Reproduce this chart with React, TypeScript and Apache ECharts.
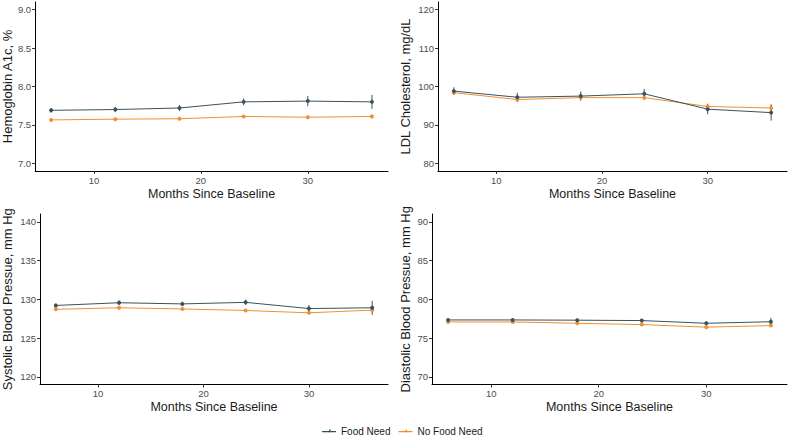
import React, { useEffect, useRef } from "react";
import * as echarts from "echarts";

const months = [6, 12, 18, 24, 30, 36];

const hba1cFood = [7.69, 7.7, 7.72, 7.8, 7.81, 7.8];
const hba1cFoodErr = [0.03, 0.035, 0.04, 0.045, 0.065, 0.09];
const hba1cNoFood = [7.565, 7.575, 7.58, 7.61, 7.6, 7.61];
const hba1cNoFoodErr = [0.012, 0.015, 0.015, 0.018, 0.022, 0.025];

const ldlFood = [98.8, 97.2, 97.5, 98.1, 94.1, 93.2];
const ldlFoodErr = [1.0, 1.15, 1.2, 1.25, 1.3, 2.1];
const ldlNoFood = [98.4, 96.6, 97.1, 97.1, 94.8, 94.4];
const ldlNoFoodErr = [0.6, 0.6, 0.65, 0.7, 0.8, 0.9];

const sbpFood = [129.2, 129.55, 129.4, 129.6, 128.8, 128.9];
const sbpFoodErr = [0.25, 0.3, 0.3, 0.35, 0.45, 0.9];
const sbpNoFood = [128.7, 128.9, 128.75, 128.55, 128.25, 128.6];
const sbpNoFoodErr = [0.15, 0.15, 0.15, 0.18, 0.2, 0.25];

const dbpFood = [77.33, 77.33, 77.3, 77.25, 76.9, 77.1];
const dbpFoodErr = [0.15, 0.15, 0.18, 0.2, 0.25, 0.5];
const dbpNoFood = [77.07, 77.07, 76.9, 76.73, 76.4, 76.6];
const dbpNoFoodErr = [0.1, 0.1, 0.1, 0.12, 0.13, 0.15];

const xTicks = [10, 20, 30];
const yTitles = [
  "Hemoglobin A1c, %",
  "LDL Cholesterol, mg/dL",
  "Systolic Blood Pressue, mm Hg",
  "Diastolic Blood Pressue, mm Hg",
];
const yTicks = [
  [7.0, 7.5, 8.0, 8.5, 9.0],
  [80, 90, 100, 110, 120],
  [120, 125, 130, 135, 140],
  [70, 75, 80, 85, 90],
];
const yRanges = [
  [6.9, 9.1],
  [78, 122],
  [119, 141],
  [69, 91],
];
const yDecimals = [1, 0, 0, 0];

const FOOD = "#3b515c";
const NOFOOD = "#ef8f35";
const FONT = "'Liberation Sans', Arial, sans-serif";

const grids = [
  { left: 35, top: 2, width: 353, height: 169 },
  { left: 438, top: 2, width: 349, height: 169 },
  { left: 39, top: 214, width: 349, height: 170.5 },
  { left: 432, top: 214, width: 355, height: 170.5 },
];
const nameGaps = [21, 26, 26, 20];

export default function App() {
  const ref = useRef<HTMLDivElement>(null);
  useEffect(() => {
    if (!ref.current) return;
    const chart = echarts.init(ref.current, undefined, { renderer: "svg" });
    const panels = [
      [hba1cFood, hba1cFoodErr, hba1cNoFood, hba1cNoFoodErr],
      [ldlFood, ldlFoodErr, ldlNoFood, ldlNoFoodErr],
      [sbpFood, sbpFoodErr, sbpNoFood, sbpNoFoodErr],
      [dbpFood, dbpFoodErr, dbpNoFood, dbpNoFoodErr],
    ];
    const xAxis: any[] = [];
    const yAxis: any[] = [];
    const series: any[] = [];
    panels.forEach((p, i) => {
      xAxis.push({
        type: "value",
        gridIndex: i,
        min: 4.5,
        max: 37.5,
        splitLine: { show: false },
        axisLine: { show: true, lineStyle: { color: "#000", width: 1 } },
        axisTick: { show: true, length: 3, lineStyle: { color: "#333" }, customValues: xTicks },
        axisLabel: { customValues: xTicks, color: "#4d4d4d", fontSize: 9.5, fontFamily: FONT, margin: 4 },
        name: "Months Since Baseline",
        nameLocation: "middle",
        nameGap: 16,
        nameTextStyle: { color: "#1a1a1a", fontSize: 12.5, fontFamily: FONT },
      });
      yAxis.push({
        type: "value",
        gridIndex: i,
        min: yRanges[i][0],
        max: yRanges[i][1],
        splitLine: { show: false },
        axisLine: { show: true, lineStyle: { color: "#000", width: 1 } },
        axisTick: { show: true, length: 3, lineStyle: { color: "#333" }, customValues: yTicks[i] },
        axisLabel: {
          customValues: yTicks[i],
          color: "#4d4d4d",
          fontSize: 9.5,
          fontFamily: FONT,
          margin: 4,
          formatter: (v: number) => v.toFixed(yDecimals[i]),
        },
        name: yTitles[i],
        nameLocation: "middle",
        nameGap: nameGaps[i],
        nameTextStyle: { color: "#1a1a1a", fontSize: 13, fontFamily: FONT },
      });
      const groups = [
        { name: "No Food Need", mean: p[2], err: p[3], color: NOFOOD },
        { name: "Food Need", mean: p[0], err: p[1], color: FOOD },
      ];
      groups.forEach((g) => {
        series.push({
          type: "custom",
          name: g.name + " error",
          xAxisIndex: i,
          yAxisIndex: i,
          data: months.map((m, k) => [m, g.mean[k] - g.err[k], g.mean[k] + g.err[k]]),
          encode: { x: 0, y: [1, 2] },
          itemStyle: { color: g.color },
          renderItem: (_params: any, api: any) => {
            const a = api.coord([api.value(0), api.value(1)]);
            const b = api.coord([api.value(0), api.value(2)]);
            return {
              type: "line",
              shape: { x1: a[0], y1: a[1], x2: b[0], y2: b[1] },
              style: { stroke: g.color, lineWidth: 1 },
            };
          },
          silent: true,
          z: 2,
        });
        series.push({
          type: "line",
          name: g.name,
          xAxisIndex: i,
          yAxisIndex: i,
          data: months.map((m, k) => [m, g.mean[k]]),
          color: g.color,
          symbol: "circle",
          symbolSize: 4,
          showSymbol: true,
          lineStyle: { width: 1, color: g.color },
          itemStyle: { color: g.color },
          z: 3,
        });
      });
    });
    chart.setOption({
      animation: false,
      grid: grids,
      xAxis,
      yAxis,
      series,
      legend: {
        data: [
          { name: "Food Need", icon: "path://M0,4.5L6,4.5L6,3A1.5,1.5,0,1,1,6,6L6,4.5L12,4.5L12,5.5L6,5.5L0,5.5Z" },
          { name: "No Food Need", icon: "path://M0,4.5L6,4.5L6,3A1.5,1.5,0,1,1,6,6L6,4.5L12,4.5L12,5.5L6,5.5L0,5.5Z" },
        ],
        selectedMode: false,
        top: 421,
        left: 317,
        itemWidth: 14,
        itemHeight: 8,
        itemGap: 8,
        textStyle: { color: "#1a1a1a", fontSize: 10, fontFamily: FONT },
      },
    });
    return () => chart.dispose();
  }, []);
  return <div ref={ref} style={{ width: 789, height: 437, position: "absolute", left: 0, top: 0, background: "#fff" }} />;
}
